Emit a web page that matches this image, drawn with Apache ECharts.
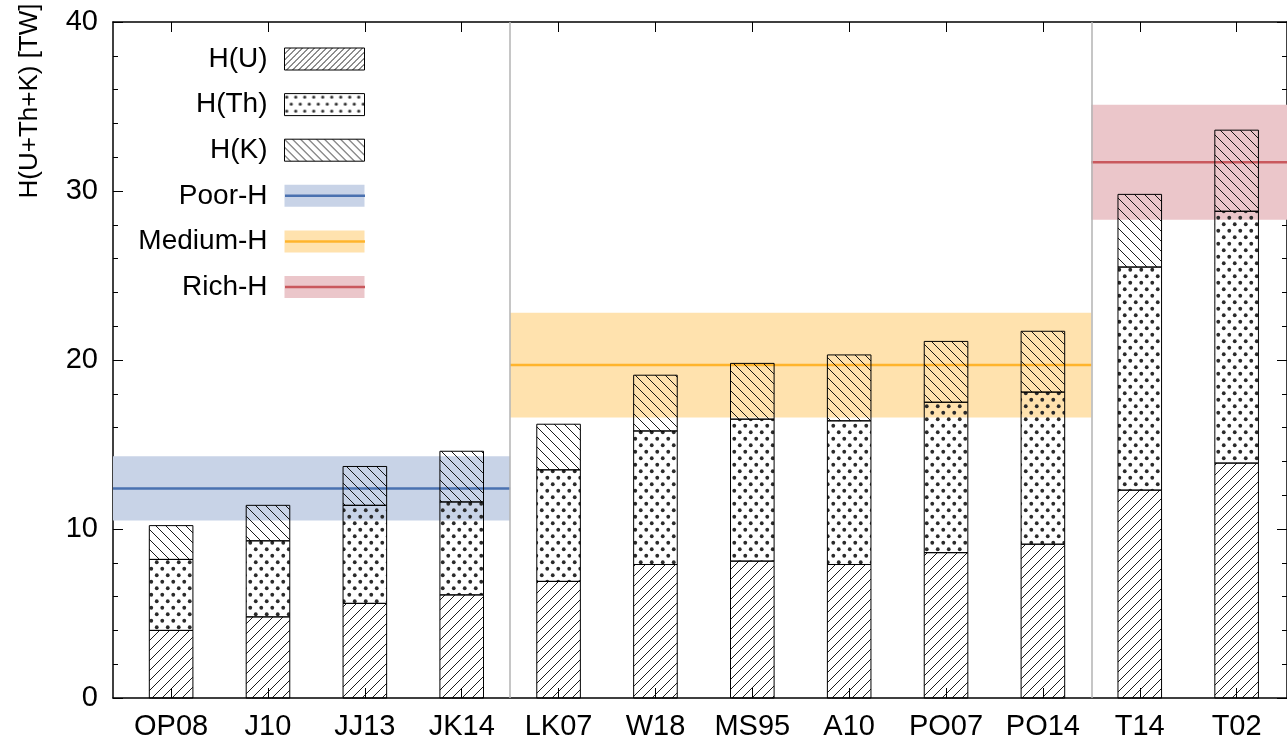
<!DOCTYPE html>
<html>
<head>
<meta charset="utf-8">
<script src="https://cdn.jsdelivr.net/npm/echarts@6/dist/echarts.min.js"></script>
<style>
html,body{margin:0;padding:0;background:#fff;}
#chart{width:1287px;height:742px;}
</style>
</head>
<body>
<div id="chart"></div>
<script>
// ---- data ----
const categories = ['OP08','J10','JJ13','JK14','LK07','W18','MS95','A10','PO07','PO14','T14','T02'];
const heatU  = [4.0, 4.8, 5.6, 6.1, 6.9, 7.9, 8.1, 7.9, 8.6, 9.1, 12.3, 13.9];
const heatTh = [4.2, 4.5, 5.8, 5.5, 6.6, 7.9, 8.4, 8.5, 8.9, 9.0, 13.2, 14.9];
const heatK  = [2.0, 2.1, 2.3, 3.0, 2.7, 3.3, 3.3, 3.9, 3.6, 3.6, 4.3, 4.8];
const bandNames  = ['Poor-H', 'Medium-H', 'Rich-H'];
const bandCenter = [12.4, 19.7, 31.7];
const bandLow    = [10.5, 16.6, 28.3];
const bandHigh   = [14.3, 22.8, 35.1];
const bandStart  = [0.4, 4.5, 10.5];
const bandEnd    = [4.5, 10.5, 12.52];
const groupDividers = [4.5, 10.5];
const yTicks = [0, 10, 20, 30, 40];

// ---- styles ----
const FONT = "'Liberation Sans', Arial, sans-serif";
const bandFill = ['#c8d3e7', '#ffe2ae', '#ebc6ca'];
const bandLine = ['#4a71b0', '#ffb42c', '#c9585d'];
const X_MIN = 0.4, X_MAX = 12.52;
const BAR_W = 0.45; // in x-axis units

function hatch(s, dir, lw) {
  const c = document.createElement('canvas');
  c.width = s; c.height = s;
  const g = c.getContext('2d');
  g.strokeStyle = '#000'; g.lineWidth = lw;
  g.beginPath();
  if (dir > 0) {
    for (let k = -1; k <= 1; k++) { g.moveTo(k*s, s); g.lineTo(k*s + s, 0); }
  } else {
    for (let k = -1; k <= 1; k++) { g.moveTo(k*s, 0); g.lineTo(k*s + s, s); }
  }
  g.stroke();
  return {image: c, repeat: 'repeat'};
}
function dots(w, h, r) {
  const c = document.createElement('canvas');
  c.width = w; c.height = h;
  const g = c.getContext('2d');
  g.fillStyle = '#2a2a2a';
  [[w*0.25, h*0.25], [w*0.75, h*0.75]].forEach(p => {
    g.beginPath(); g.arc(p[0], p[1], r, 0, Math.PI*2); g.fill();
  });
  return {image: c, repeat: 'repeat'};
}
const patU = hatch(10, 1, 0.9), patTh = dots(11, 13, 1.9), patK = hatch(10, -1, 0.9);
const legU = hatch(6, 1, 0.9), legTh = dots(9, 14, 1.6), legK = hatch(8, -1, 0.9);

const xs = categories.map((_, i) => i + 1);
const layers = [heatU, heatTh, heatK];
function stackedData(layerIdx) {
  return xs.map((x, i) => {
    let base = 0;
    for (let l = 0; l < layerIdx; l++) base += layers[l][i];
    return [x, base, base + layers[layerIdx][i]];
  });
}
function barSeries(name, layerIdx, pat) {
  return {
    name, type: 'custom', z: 3, silent: true,
    itemStyle: {color: pat},
    encode: {x: 0, y: [1, 2]},
    data: stackedData(layerIdx),
    renderItem: function (params, api) {
      const x = api.value(0);
      const p0 = api.coord([x, api.value(1)]);
      const p1 = api.coord([x, api.value(2)]);
      const w = api.size([BAR_W, 0])[0];
      return {
        type: 'rect',
        shape: {x: p0[0] - w / 2, y: p1[1], width: w, height: p0[1] - p1[1]},
        style: {fill: pat, stroke: '#000', lineWidth: 1}
      };
    }
  };
}
const bandSeries = bandNames.map((n, i) => ({
  name: n, type: 'line', z: 2, symbol: 'none', silent: true,
  data: [[bandStart[i], bandCenter[i]], [bandEnd[i], bandCenter[i]]],
  lineStyle: {color: bandLine[i], width: 2.5},
  itemStyle: {color: bandLine[i]},
  markArea: {
    silent: true,
    itemStyle: {color: bandFill[i]},
    data: [[{xAxis: bandStart[i], yAxis: bandLow[i]}, {xAxis: bandEnd[i], yAxis: bandHigh[i]}]]
  }
}));
bandSeries[0].markLine = {
  silent: true, symbol: 'none', label: {show: false},
  lineStyle: {color: '#b3b3b3', width: 1.5, type: 'solid'},
  data: groupDividers.map(v => ({xAxis: v}))
};

const axisLine = {show: true, onZero: false, lineStyle: {color: '#000', width: 1.5}};
const ROW_GAP = 17.6, LEG_TOP = 45, ROW_PITCH = 45.6;
const legendCommon = {
  orient: 'vertical', right: 922, itemWidth: 80, itemHeight: 22, itemGap: ROW_GAP,
  padding: 0, align: 'right', selectedMode: false,
  textStyle: {fontFamily: FONT, fontSize: 28, color: '#000', padding: [0, 12, 0, 0]}
};

const option = {
  animation: false,
  grid: {left: 113, right: -2, top: 22, bottom: 44},
  xAxis: [
    {type: 'value', min: X_MIN, max: X_MAX, position: 'bottom', axisLine,
     splitLine: {show: false},
     axisTick: {show: true, inside: true, length: 10, customValues: xs, lineStyle: {color: '#000', width: 1}},
     axisLabel: {show: true, customValues: xs, margin: 14, color: '#000', fontFamily: FONT, fontSize: 29,
                 formatter: v => categories[Math.round(v) - 1] || ''}},
    {type: 'value', min: X_MIN, max: X_MAX, position: 'top', axisLine,
     splitLine: {show: false},
     axisTick: {show: true, inside: true, length: 10, customValues: xs, lineStyle: {color: '#000', width: 1}},
     axisLabel: {show: false}}
  ],
  yAxis: [
    {type: 'value', min: 0, max: 40, interval: 10, position: 'left', axisLine,
     splitLine: {show: false},
     axisTick: {show: true, inside: true, length: 10, lineStyle: {color: '#000', width: 1}},
     minorTick: {show: true, splitNumber: 5, length: 5, lineStyle: {color: '#000', width: 1}},
     axisLabel: {color: '#000', fontFamily: FONT, fontSize: 29, margin: 15,
                 formatter: v => yTicks.indexOf(v) >= 0 ? String(v) : ''}},
    {type: 'value', min: 0, max: 40, interval: 10, position: 'right', axisLine,
     splitLine: {show: false},
     axisTick: {show: true, inside: true, length: 10, lineStyle: {color: '#000', width: 1}},
     minorTick: {show: true, splitNumber: 5, length: 5, lineStyle: {color: '#000', width: 1}},
     axisLabel: {show: false}}
  ],
  legend: [
    Object.assign({}, legendCommon, {
      top: LEG_TOP,
      data: [
        {name: 'H(U)', icon: 'rect', itemStyle: {color: legU, borderColor: '#000', borderWidth: 1}},
        {name: 'H(Th)', icon: 'rect', itemStyle: {color: legTh, borderColor: '#000', borderWidth: 1}},
        {name: 'H(K)', icon: 'rect', itemStyle: {color: legK, borderColor: '#000', borderWidth: 1}},
        {name: 'Poor-H', icon: 'rect', itemStyle: {color: bandFill[0], borderWidth: 0}},
        {name: 'Medium-H', icon: 'rect', itemStyle: {color: bandFill[1], borderWidth: 0}},
        {name: 'Rich-H', icon: 'rect', itemStyle: {color: bandFill[2], borderWidth: 0}}
      ]
    }),
    Object.assign({}, legendCommon, {
      top: LEG_TOP + 3 * ROW_PITCH,
      textStyle: Object.assign({}, legendCommon.textStyle, {color: 'rgba(0,0,0,0)'}),
      data: bandNames.map((n, i) => ({
        name: n, icon: 'path://M0,0L80,0L80,2.5L0,2.5Z',
        itemStyle: {color: bandLine[i], borderWidth: 0}
      }))
    })
  ],
  graphic: [{
    type: 'text', x: 30, y: 101, rotation: Math.PI / 2,
    style: {text: 'H(U+Th+K) [TW]', fontFamily: FONT, fontSize: 26, fill: '#000',
            align: 'center', verticalAlign: 'middle'}
  }],
  series: [
    barSeries('H(U)', 0, patU),
    barSeries('H(Th)', 1, patTh),
    barSeries('H(K)', 2, patK)
  ].concat(bandSeries)
};

const chart = echarts.init(document.getElementById('chart'), null, {renderer: 'canvas'});
chart.setOption(option);
</script>
</body>
</html>
